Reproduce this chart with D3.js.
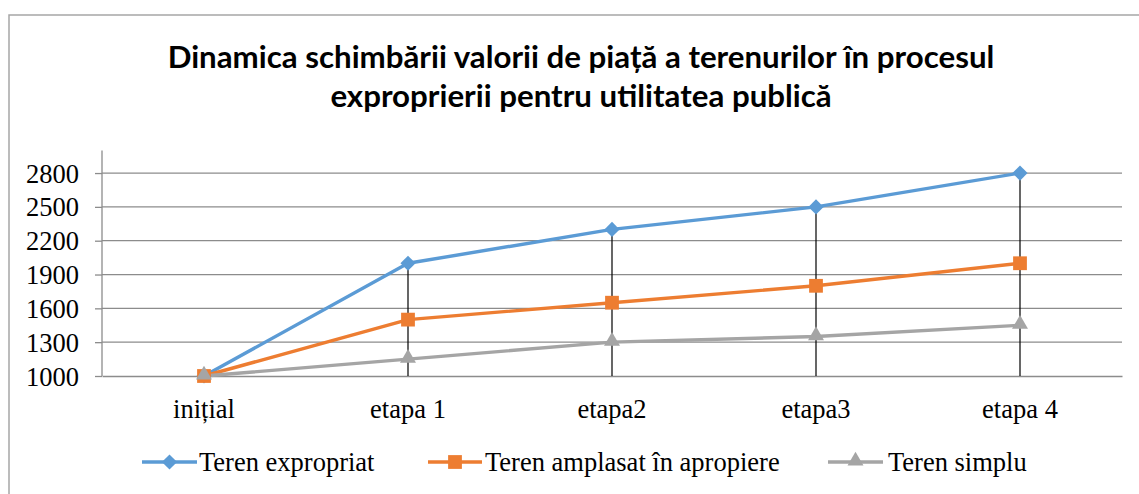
<!DOCTYPE html>
<html><head><meta charset="utf-8">
<script src="https://cdn.jsdelivr.net/npm/d3@7"></script>
<style>body{margin:0;background:#fff}</style>
</head><body>
<svg id="c" width="1139" height="494"></svg>
<script>
const categories = ["inițial","etapa 1","etapa2","etapa3","etapa 4"];
const seriesNames = ["Teren expropriat","Teren amplasat în apropiere","Teren simplu"];
const expropriat = [1000,2000,2300,2500,2800];
const apropiere = [1000,1500,1650,1800,2000];
const simplu = [1000,1150,1300,1350,1450];
const yTicks = [1000,1300,1600,1900,2200,2500,2800];
const titleLines = ["Dinamica schimbării valorii de piață a terenurilor în procesul","exproprierii pentru utilitatea publică"];

const colors = ["#5b9bd5","#ed7d31","#a5a5a5"];
const series = [expropriat, apropiere, simplu];
const serif = "'Liberation Serif','Times New Roman',serif";
const FS = 26.5;

const svg = d3.select("#c");
svg.append("rect").attr("x",9).attr("y",15).attr("width",1140).attr("height",500)
  .attr("fill","#fff").attr("stroke","#a6a6a6").attr("stroke-width",1.5);

// title
const tl = svg.append("g").selectAll("text").data(titleLines).join("text")
  .attr("x",581).attr("y",(d,i)=>68+i*39).attr("text-anchor","middle")
  .attr("font-family","Lato, 'Open Sans', sans-serif").attr("font-weight","bold")
  .attr("font-size",28).attr("fill","#000").text(d=>d);
const w0 = tl.nodes()[0].getComputedTextLength();
tl.attr("font-size", 28*827/w0);

const x = d3.scaleBand().domain(categories).range([102,1122]);
const y = d3.scaleLinear().domain([1000,3000]).range([376,150.5]);

// gridlines
svg.append("g").selectAll("line").data(yTicks.slice(1)).join("line")
  .attr("x1",102).attr("x2",1122).attr("y1",d=>y(d)).attr("y2",d=>y(d))
  .attr("stroke","#8c8c8c").attr("stroke-width",1.3);

// y axis
const ya = svg.append("g").attr("transform","translate(102,0)")
  .call(d3.axisLeft(y).tickValues(yTicks).tickSize(7).tickPadding(16).tickFormat(d3.format("d")));
ya.select(".domain").attr("stroke","#8c8c8c").attr("stroke-width",1.3).attr("d","M0,150.5V376");
ya.selectAll(".tick line").attr("stroke","#8c8c8c").attr("stroke-width",1.3);
ya.selectAll("text").attr("font-family",serif).attr("font-size",FS).attr("fill","#000").attr("dy","0.34em");

// x axis
const xa = svg.append("g").attr("transform","translate(0,376)")
  .call(d3.axisBottom(x).tickSize(0).tickPadding(0));
xa.select(".domain").attr("stroke","#8c8c8c").attr("stroke-width",1.5);
xa.selectAll("text").attr("font-family",serif).attr("font-size",FS).attr("fill","#000")
  .attr("dy",null).attr("y",42);

const cx = d => x(d)+x.bandwidth()/2;

// drop lines
svg.append("g").selectAll("line").data(categories).join("line")
  .attr("x1",cx).attr("x2",cx)
  .attr("y1",(d,i)=>y(d3.max(series,s=>s[i]))).attr("y2",376)
  .attr("stroke","#000").attr("stroke-width",1.2);

const line = d3.line().x((d,i)=>cx(categories[i])).y(d=>y(d));
series.forEach((s,k)=>{
  svg.append("path").datum(s).attr("d",line).attr("fill","none")
    .attr("stroke",colors[k]).attr("stroke-width",3.4).attr("stroke-linejoin","round");
});

const markers = [
  {type:d3.symbolSquare, size:115, rot:45, dy:0},
  {type:d3.symbolSquare, size:190, rot:0, dy:0},
  {type:d3.symbolTriangle, size:110, rot:0, dy:-1}
];
function marker(g,k,px,py){
  const m = markers[k];
  g.append("path").attr("transform",`translate(${px},${py+m.dy}) rotate(${m.rot})`)
    .attr("d",d3.symbol().type(m.type).size(m.size)).attr("fill",colors[k]);
}
series.forEach((s,k)=>{
  const g = svg.append("g");
  s.forEach((d,i)=>marker(g,k,cx(categories[i]),y(d)));
});

// legend
const legX = [142,428,828], legW=[55,54,55], textX=[199,485,888];
const lg = svg.append("g");
seriesNames.forEach((n,k)=>{
  lg.append("line").attr("x1",legX[k]).attr("x2",legX[k]+legW[k]).attr("y1",462).attr("y2",462)
    .attr("stroke",colors[k]).attr("stroke-width",3.4);
  marker(lg,k,legX[k]+legW[k]/2,462);
  lg.append("text").attr("x",textX[k]).attr("y",471).text(n)
    .attr("font-family",serif).attr("font-size",FS).attr("fill","#000");
});
</script>
</body></html>
